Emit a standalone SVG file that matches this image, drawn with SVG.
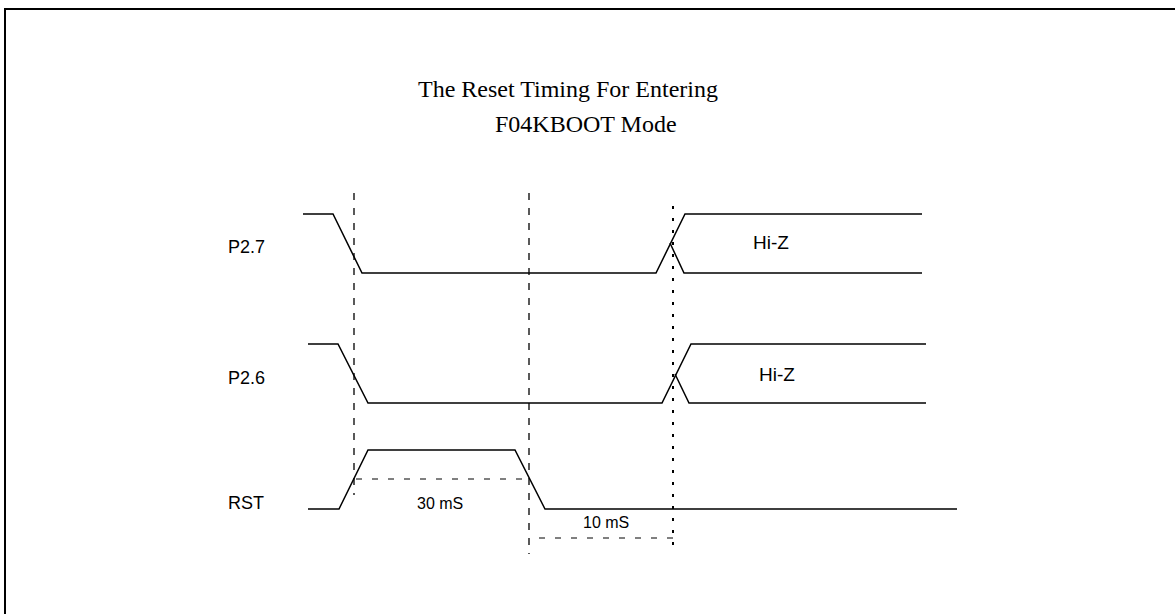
<svg xmlns="http://www.w3.org/2000/svg" width="1175" height="614" viewBox="0 0 1175 614">
<style>
.sig{fill:none;stroke:#000;stroke-width:1.5}
.dash{fill:none;stroke:#000;stroke-width:1.3;stroke-dasharray:7 8}
.dot{fill:none;stroke:#000;stroke-width:2;stroke-dasharray:3 9}
.hdash{fill:none;stroke:#000;stroke-width:1;stroke-dasharray:6 10}
.lbl{font-family:"Liberation Sans",Arial,sans-serif;font-size:18px;fill:#000}
.hz{font-family:"Liberation Sans",Arial,sans-serif;font-size:19px;fill:#000}
.sm{font-family:"Liberation Sans",Arial,sans-serif;font-size:16px;fill:#000}
.title{font-family:"Liberation Serif","Times New Roman",serif;font-size:24px;fill:#000}
</style>
<rect width="1175" height="614" fill="#fff"/>
<path d="M5,614 V9 H1175" fill="none" stroke="#000" stroke-width="2"/>
<g id="title">
<text class="title" x="418" y="97">The Reset Timing For Entering</text>
<text class="title" x="495" y="132">F04KBOOT Mode</text>
</g>
<g id="p27">
<text class="lbl" x="228" y="253">P2.7</text>
<path class="sig" d="M303,214 H333 L362,273 H656 L685,214 H922"/>
<path class="sig" d="M670,243 L684,273 H922"/>
<text class="hz" x="753" y="249">Hi-Z</text>
</g>
<g id="p26">
<text class="lbl" x="228" y="384">P2.6</text>
<path class="sig" d="M308,344 H338 L368,403 H662 L691,344 H926"/>
<path class="sig" d="M675,374 L689,403 H926"/>
<text class="hz" x="759" y="381">Hi-Z</text>
</g>
<g id="rst">
<text class="lbl" x="228" y="509">RST</text>
<path class="sig" d="M308,509 H339 L368,450 H515 L545,509 H957"/>
<text class="sm" x="417" y="509">30 mS</text>
<text class="sm" x="583" y="528">10 mS</text>
</g>
<g id="connectors">
<line class="dash" x1="354" y1="193" x2="354" y2="495"/>
<line class="dash" x1="529" y1="193" x2="529" y2="554"/>
<line class="dot" x1="673" y1="206" x2="673" y2="554"/>
<line class="hdash" x1="356" y1="479" x2="529" y2="479"/>
<line class="hdash" x1="539" y1="538" x2="673" y2="538"/>
</g>
</svg>
